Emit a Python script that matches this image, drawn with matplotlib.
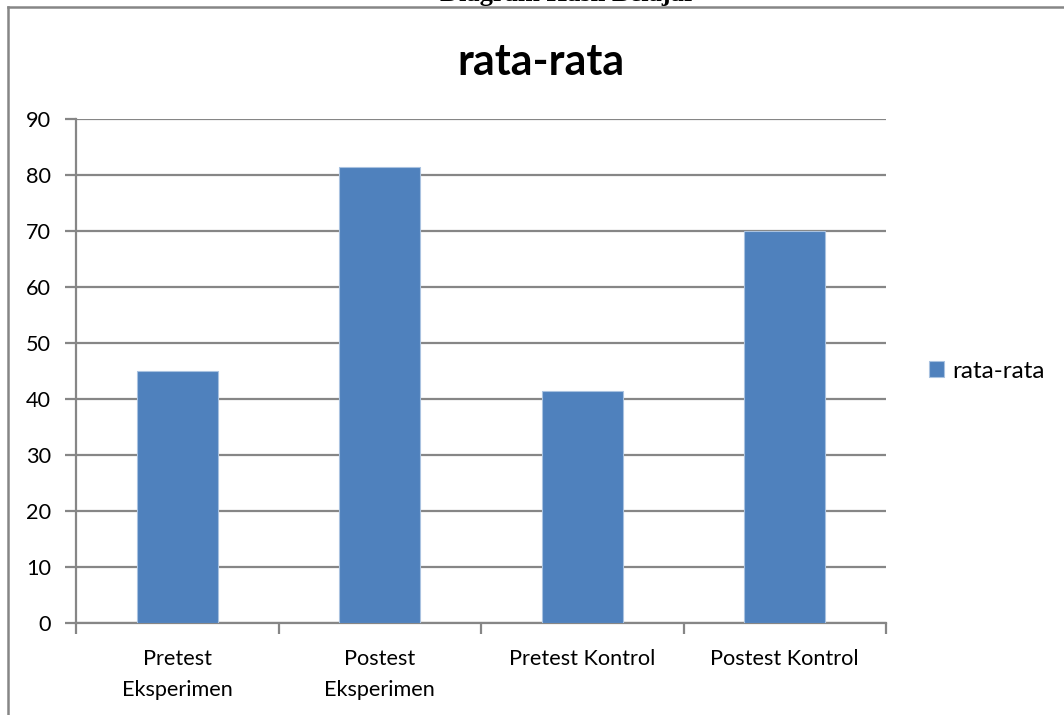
import matplotlib
matplotlib.use("Agg")
import matplotlib.pyplot as plt
import numpy as np
from matplotlib.lines import Line2D

categories = ["Pretest\nEksperimen", "Postest\nEksperimen", "Pretest Kontrol", "Postest Kontrol"]
values = [45.0, 81.5, 41.4, 70.0]
series_name = "rata-rata"
chart_title = "rata-rata"
page_heading = "Diagram Hasil Belajar"

plt.rcParams['font.family'] = ['Lato', 'DejaVu Sans']
grid_col = '#868686'
bar_col = '#4F81BD'
fs = 15.6

fig = plt.figure(figsize=(10.64, 7.15), dpi=100)
ax = fig.add_axes([76/1064, 1-623/715, 810/1064, 504/715])

x = np.arange(len(categories))
ax.bar(x, values, 0.4, color=bar_col, edgecolor='#a9c2e0', linewidth=0.8,
       label=series_name, zorder=3)

ax.set_xlim(-0.5, len(categories)-0.5)
ax.set_ylim(0, 90)
ax.set_yticks(np.arange(0, 91, 10))
ax.yaxis.grid(True, color=grid_col, linewidth=1.6, zorder=0)
ax.set_axisbelow(True)

ax.set_xticks(x)
ax.set_xticklabels(categories, fontsize=fs, linespacing=1.65)
ax.set_xticks(np.arange(-0.5, len(categories), 1), minor=True)
ax.tick_params(axis='x', which='major', length=0, pad=19)
ax.tick_params(axis='x', which='minor', length=8, width=1.6, color=grid_col, direction='out')
ax.tick_params(axis='y', length=8, width=1.6, color=grid_col, labelsize=fs, pad=10)

for s in ['top', 'right']:
    ax.spines[s].set_visible(False)
for s in ['left', 'bottom']:
    ax.spines[s].set_color(grid_col)
    ax.spines[s].set_linewidth(1.6)

fig.text(541/1064, 1-62/715, chart_title, ha='center', va='center',
         fontsize=31, fontweight='bold')

leg = ax.legend(loc='center left', bbox_to_anchor=(1.053, 0.5), frameon=False,
                fontsize=17.5, handlelength=0.62, handleheight=0.62, handletextpad=0.33,
                borderpad=0, borderaxespad=0)

# page heading cut off at the top
fig.text(568/1064, 1-1/715, page_heading, ha='center', va='baseline',
         fontsize=19, fontweight='bold', family='Liberation Serif')

# outer frame (top and left only visible)
fig.add_artist(Line2D([8/1064, 1], [1-6.5/715, 1-6.5/715], transform=fig.transFigure,
                      color=grid_col, linewidth=1.8))
fig.add_artist(Line2D([8/1064, 8/1064], [0, 1-6.5/715], transform=fig.transFigure,
                      color=grid_col, linewidth=1.8))

fig.savefig("out.png", dpi=100)
